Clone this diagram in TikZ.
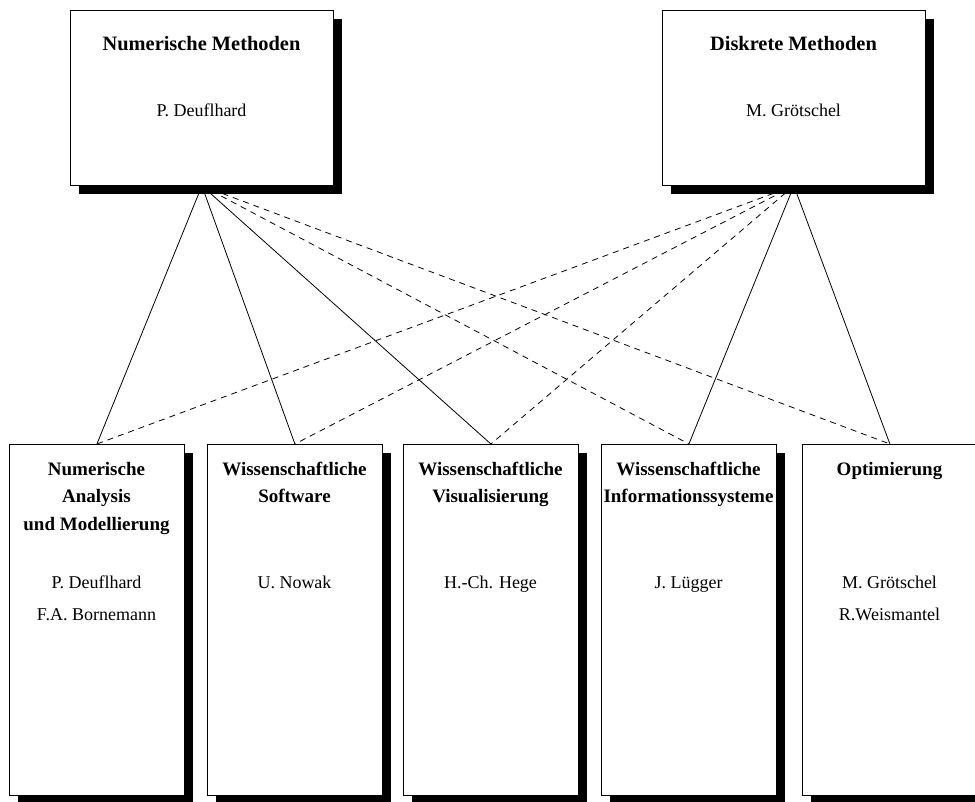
\documentclass[tikz,border=0pt]{standalone}
\usepackage{fontspec}
\setmainfont{Liberation Serif}
\usetikzlibrary{shadows}
\tikzset{
  box/.style={draw=black, line width=0.8pt, fill=white, anchor=north west, inner sep=0pt,
    general shadow={fill=black, shadow xshift=9pt, shadow yshift=-9pt}},
  topbox/.style={box, minimum width=263pt, minimum height=175pt},
  botbox/.style={box, minimum width=175pt, minimum height=351pt},
  ttl/.style={anchor=base, font=\fontsize{20.4}{24}\selectfont\bfseries},
  btl/.style={anchor=base, font=\fontsize{19}{23}\selectfont\bfseries},
  nam/.style={anchor=base, font=\fontsize{18}{22}\selectfont},
  link/.style={line width=0.8pt},
  dlink/.style={line width=0.8pt, dash pattern=on 6pt off 5pt}
}
\begin{document}
\begin{tikzpicture}[x=1pt,y=-1pt]
\useasboundingbox (0,0) rectangle (975,801);
\clip (0,0) rectangle (975,801);
% top boxes
\node[topbox] (nm) at (70,10) {};
\node[topbox] (dm) at (662,10) {};
% bottom boxes
\node[botbox] (b1) at (9,444) {};
\node[botbox] (b2) at (207,444) {};
\node[botbox] (b3) at (403,444) {};
\node[botbox] (b4) at (601,444) {};
\node[botbox] (b5) at (802,444) {};
% connectors
\draw[link] (nm.south) -- (b1.north);
\draw[link] (nm.south) -- (b2.north);
\draw[link] (nm.south) -- (b3.north);
\draw[dlink] (nm.south) -- (b4.north);
\draw[dlink] (nm.south) -- (b5.north);
\draw[dlink] (dm.south) -- (b1.north);
\draw[dlink] (dm.south) -- (b2.north);
\draw[dlink] (dm.south) -- (b3.north);
\draw[link] (dm.south) -- (b4.north);
\draw[link] (dm.south) -- (b5.north);
% top texts
\node[ttl] (nmt) at (201.5,50) {Numerische Methoden};
\node[nam] (nmn) at (201.5,116) {P. Deuflhard};
\node[ttl] (dmt) at (793.5,50) {Diskrete Methoden};
\node[nam] (dmn) at (793.5,116) {M. Grötschel};
% bottom texts
\node[btl] (b1a) at (96.5,475) {Numerische};
\node[btl] (b1b) at (96.5,502) {Analysis};
\node[btl] (b1c) at (96.5,530) {und Modellierung};
\node[nam] (b1n) at (96.5,588) {P. Deuflhard};
\node[nam] (b1m) at (96.5,620) {F.A. Bornemann};
\node[btl] (b2a) at (294.5,475) {Wissenschaftliche};
\node[btl] (b2b) at (294.5,502) {Software};
\node[nam] (b2n) at (294.5,588) {U. Nowak};
\node[btl] (b3a) at (490.5,475) {Wissenschaftliche};
\node[btl] (b3b) at (490.5,502) {Visualisierung};
\node[nam] (b3n) at (490.5,588) {H.-Ch. Hege};
\node[btl] (b4a) at (688.5,475) {Wissenschaftliche};
\node[btl] (b4b) at (688.5,502) {Informationssysteme};
\node[nam] (b4n) at (688.5,588) {J. Lügger};
\node[btl] (b5a) at (889.5,475) {Optimierung};
\node[nam] (b5n) at (889.5,588) {M. Grötschel};
\node[nam] (b5m) at (889.5,620) {R.Weismantel};
\end{tikzpicture}
\end{document}
